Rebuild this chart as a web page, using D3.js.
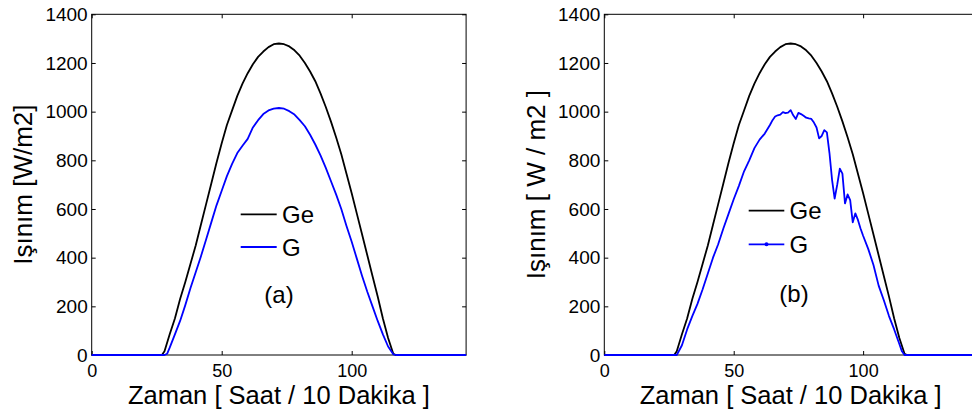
<!DOCTYPE html>
<html>
<head>
<meta charset="utf-8">
<script src="https://cdn.jsdelivr.net/npm/d3@7"></script>
<style>
  body { margin: 0; background: #fff; }
  svg { display: block; }
  text { font-family: "Liberation Sans", Arial, sans-serif; fill: #000; }
</style>
</head>
<body>
<svg id="chart" width="972" height="414"></svg>
<script>
// ---- data (time index in 10-minute steps, irradiance in W/m2) ----
const xTicks = [0, 50, 100];
const yTicks = [0, 200, 400, 600, 800, 1000, 1200, 1400];

const timeGe = [0, 27, 28, 30, 32, 34, 36, 38, 40, 42, 44, 46, 48, 50, 52, 54, 56, 58, 60, 62, 64, 66, 68, 70, 72,
  74, 76, 78, 80, 82, 84, 86, 88, 90, 92, 94, 96, 98, 100, 102, 104, 106, 108, 110, 112, 114, 116, 117, 144];
const irrGe = [0, 0, 15, 85, 150, 230, 300, 375, 450, 535, 620, 705, 790, 870, 945, 1005, 1065, 1115, 1158, 1195, 1225, 1247, 1265, 1277, 1280,
  1277, 1268, 1252, 1230, 1200, 1165, 1125, 1075, 1020, 960, 895, 825, 745, 665, 580, 495, 410, 325, 240, 150, 70, 5, 0, 0];

const timeGa = [0, 28, 29, 30, 32, 34, 36, 38, 40, 42, 44, 46, 48, 50, 52, 54, 56, 58, 60, 62, 64, 66, 68, 70, 72,
  74, 76, 78, 80, 82, 84, 86, 88, 90, 92, 94, 96, 98, 100, 102, 104, 106, 108, 110, 112, 114, 116, 117, 144];
const irrGa = [0, 0, 5, 30, 85, 140, 205, 275, 340, 405, 475, 545, 615, 675, 735, 785, 830, 860, 888, 935, 965, 990, 1005, 1012, 1015,
  1012, 1002, 988, 965, 940, 905, 865, 820, 770, 715, 660, 600, 530, 465, 395, 325, 260, 200, 140, 85, 35, 3, 0, 0];

const timeGb = [0, 28, 30, 32, 34, 36, 38, 40, 42, 44, 46, 48, 50, 52, 54, 56, 58, 60, 62, 64, 65, 66, 67, 68, 69, 70,
  71, 72, 73, 74, 75, 76, 77, 78, 79, 80, 81, 82, 83, 84, 85, 86, 87, 88, 89, 90, 91, 92, 93, 94, 95, 96, 97, 98, 99,
  100, 102, 104, 106, 108, 110, 112, 114, 115, 116, 144];
const irrGb = [0, 0, 40, 105, 160, 210, 270, 335, 400, 455, 520, 580, 640, 695, 755, 800, 850, 885, 910, 945, 965, 980, 985, 988, 998, 994,
  996, 1006, 985, 970, 995, 990, 983, 975, 972, 970, 955, 935, 890, 900, 924, 915, 830, 720, 643, 700, 766, 745, 623, 660, 636, 545, 582, 555, 520,
  490, 435, 370, 285, 225, 160, 105, 45, 15, 0, 0];

const panels = [
  { left: 91.7, right: 466.1, ylabel: "Işınım [W/m2]", tag: "(a)", gx: timeGa, gy: irrGa, dot: false,
    ylabX: 32, legLine: [240.7, 276.7], legY: [214.3, 247], legTextX: 282, tagX: 279, tagY: 303 },
  { left: 604.3, right: 977, ylabel: "Işınım [ W / m2 ]", tag: "(b)", gx: timeGb, gy: irrGb, dot: true,
    ylabX: 545, legLine: [748.7, 784.3], legY: [210.7, 244.3], legTextX: 789.5, tagX: 794, tagY: 301.7 }
];

const svg = d3.select("#chart");
const plotTop = 14.3, plotBottom = 355;
const y = d3.scaleLinear().domain([0, 1400]).range([plotBottom, plotTop]);
const fmt = d3.format("d");

panels.forEach(p => {
  const x = d3.scaleLinear().domain([0, 144]).range([p.left, p.right]);
  const g = svg.append("g");

  const ax = g.append("g").attr("transform", `translate(0,${plotBottom})`)
    .call(d3.axisBottom(x).tickValues(xTicks).tickFormat(fmt).tickSizeInner(-4).tickSizeOuter(0).tickPadding(9));
  const axT = g.append("g").attr("transform", `translate(0,${plotTop})`)
    .call(d3.axisTop(x).tickValues(xTicks).tickSizeInner(-4).tickSizeOuter(0).tickFormat(""));
  const ay = g.append("g").attr("transform", `translate(${p.left},0)`)
    .call(d3.axisLeft(y).tickValues(yTicks).tickFormat(fmt).tickSizeInner(-4).tickSizeOuter(0).tickPadding(4));
  const ayR = g.append("g").attr("transform", `translate(${p.right},0)`)
    .call(d3.axisRight(y).tickValues(yTicks).tickSizeInner(-4).tickSizeOuter(0).tickFormat(""));
  [ax, axT, ay, ayR].forEach(a => {
    a.select(".domain").remove();
    a.selectAll(".tick line").attr("stroke", "#000").attr("stroke-width", 1);
  });
  ay.selectAll("text").style("font-family", '"Liberation Sans", Arial, sans-serif')
    .style("font-size", "19px").attr("fill", "#000");
  ax.selectAll("text").style("font-family", '"Liberation Sans", Arial, sans-serif')
    .style("font-size", "18px").attr("fill", "#000");

  g.append("rect").attr("x", p.left).attr("y", plotTop)
    .attr("width", p.right - p.left).attr("height", plotBottom - plotTop)
    .attr("fill", "none").attr("stroke", "#000").attr("stroke-width", 1);

  const line = d3.line().x(d => x(d[0])).y(d => y(d[1]));
  g.append("path").datum(timeGe.map((t, i) => [t, irrGe[i]]))
    .attr("d", line).attr("fill", "none").attr("stroke", "#000").attr("stroke-width", 1.8)
    .attr("stroke-linejoin", "round");
  g.append("path").datum(p.gx.map((t, i) => [t, p.gy[i]]))
    .attr("d", line).attr("fill", "none").attr("stroke", "#0000ff").attr("stroke-width", 1.8)
    .attr("stroke-linejoin", "round");

  g.append("line").attr("x1", p.legLine[0]).attr("x2", p.legLine[1])
    .attr("y1", p.legY[0]).attr("y2", p.legY[0]).attr("stroke", "#000").attr("stroke-width", 1.8);
  g.append("line").attr("x1", p.legLine[0]).attr("x2", p.legLine[1])
    .attr("y1", p.legY[1]).attr("y2", p.legY[1]).attr("stroke", "#0000ff").attr("stroke-width", 1.8);
  if (p.dot) {
    g.append("circle").attr("cx", (p.legLine[0] + p.legLine[1]) / 2).attr("cy", p.legY[1])
      .attr("r", 2).attr("fill", "#0000ff");
  }
  g.append("text").attr("x", p.legTextX).attr("y", p.legY[0] + 8.5).style("font-size", "24px").text("Ge");
  g.append("text").attr("x", p.legTextX).attr("y", p.legY[1] + 8.5).style("font-size", "24px").text("G");
  g.append("text").attr("x", p.tagX).attr("y", p.tagY).attr("text-anchor", "middle")
    .style("font-size", "24px").text(p.tag);

  g.append("text").attr("x", (p.left + p.right) / 2).attr("y", 404).attr("text-anchor", "middle")
    .style("font-size", "25.5px").text("Zaman [ Saat / 10 Dakika ]");
  g.append("text").attr("transform", `translate(${p.ylabX},${(plotTop + plotBottom) / 2}) rotate(-90)`)
    .attr("text-anchor", "middle").style("font-size", "26px").text(p.ylabel);
});
</script>
</body>
</html>
